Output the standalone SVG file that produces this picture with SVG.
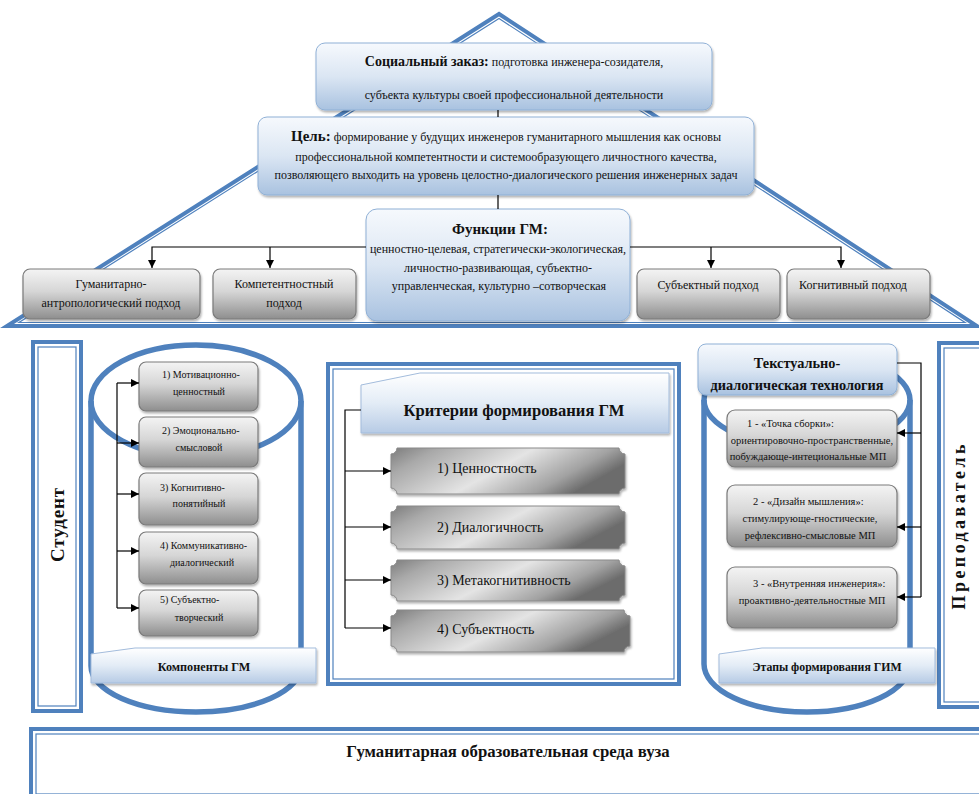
<svg xmlns="http://www.w3.org/2000/svg" width="979" height="794" viewBox="0 0 979 794" font-family="'Liberation Serif', 'Times New Roman', serif">
<defs>
<linearGradient id="gBlue" x1="0" y1="0" x2="0" y2="1">
<stop offset="0" stop-color="#f6f9fd"/><stop offset="0.5" stop-color="#dbe6f3"/><stop offset="1" stop-color="#a9c2e0"/>
</linearGradient>
<linearGradient id="gBanner" x1="0" y1="0" x2="0" y2="1">
<stop offset="0" stop-color="#ffffff"/><stop offset="0.5" stop-color="#e3ecf6"/><stop offset="1" stop-color="#b7cbe5"/>
</linearGradient>
<linearGradient id="gGray" x1="0" y1="0" x2="0" y2="1">
<stop offset="0" stop-color="#f4f4f4"/><stop offset="0.45" stop-color="#d6d6d6"/><stop offset="1" stop-color="#8e8e8e"/>
</linearGradient>
<linearGradient id="gMetal" x1="0" y1="0" x2="1" y2="0.35">
<stop offset="0" stop-color="#7c7c7c"/><stop offset="0.18" stop-color="#a9a9a9"/><stop offset="0.55" stop-color="#e4e4e4"/><stop offset="0.85" stop-color="#a2a2a2"/><stop offset="1" stop-color="#6c6c6c"/>
</linearGradient>
<filter id="sh" x="-10%" y="-10%" width="120%" height="130%">
<feDropShadow dx="1" dy="2" stdDeviation="1.3" flood-color="#000" flood-opacity="0.3"/>
</filter>
<marker id="arr" markerWidth="8" markerHeight="8" refX="8" refY="4" orient="auto" markerUnits="userSpaceOnUse">
<path d="M0,0 L8,4 L0,8 z" fill="#000"/>
</marker>
<style>
.t{fill:#111}
.b{font-weight:bold}
.s12{font-size:12px}
.s10{font-size:10px}
.s105{font-size:10.5px}
.blue{fill:url(#gBlue);stroke:#8fb0d6;stroke-width:1}
.gray{fill:url(#gGray);stroke:#7a7a7a;stroke-width:1.2}
.metal{fill:url(#gMetal);stroke:#8a8a8a;stroke-width:1}
.ban{fill:url(#gBanner);stroke:#a3bcdc;stroke-width:1}
.thick{fill:none;stroke:#4f81bd;stroke-width:4}
.thin{fill:none;stroke:#4f81bd;stroke-width:1.2}
.cyl{fill:none;stroke:#4f81bd;stroke-width:5.5}
.con{fill:none;stroke:#000;stroke-width:1.2}
</style>
</defs>
<rect x="0" y="0" width="979" height="794" fill="#fff"/>

<g id="roof">
<polygon points="499,14 7,326 977,326" class="thick"/>
<polygon points="499,18.5 19,322.5 965,322.5" class="thin"/>
</g>

<g id="student">
<rect x="33" y="342" width="48" height="369" class="thick" stroke-width="3.5"/>
<rect x="38" y="347" width="38" height="359" class="thin"/>
<text class="t b" font-size="19" transform="translate(64,525) rotate(-90)" text-anchor="middle" textLength="74" lengthAdjust="spacing">Студент</text>
</g>

<g id="teacher">
<rect x="939" y="343" width="50" height="364" class="thick" stroke-width="3.5"/>
<rect x="944" y="348" width="50" height="354" class="thin"/>
<text class="t b" font-size="18" transform="translate(965,527) rotate(-90)" text-anchor="middle" textLength="165" lengthAdjust="spacing">Преподаватель</text>
</g>

<g id="environment">
<rect x="31" y="729" width="960" height="70" class="thick" stroke-width="3.5"/>
<rect x="36" y="734" width="950" height="60" class="thin"/>
<text class="t b" font-size="16.8" x="508" y="757" text-anchor="middle">Гуманитарная образовательная среда вуза</text>
</g>

<g id="social">
<rect x="316" y="43" width="396" height="67" rx="9" class="blue" filter="url(#sh)"/>
<text class="t s12" x="514" y="66" text-anchor="middle"><tspan class="b" font-size="14">Социальный заказ:</tspan> подготовка инженера-созидателя,</text>
<text class="t s12" x="514" y="99" text-anchor="middle">субъекта культуры своей профессиональной деятельности</text>
</g>

<g id="goal">
<rect x="258" y="117" width="496" height="78" rx="9" class="blue" filter="url(#sh)"/>
<text class="t s12" x="506" y="141" text-anchor="middle"><tspan class="b" font-size="15">Цель:</tspan> формирование у будущих инженеров гуманитарного мышления как основы</text>
<text class="t s12" x="506" y="161" text-anchor="middle">профессиональной компетентности и системообразующего личностного качества,</text>
<text class="t s12" x="506" y="179" text-anchor="middle">позволяющего выходить на уровень целостно-диалогического решения инженерных задач</text>
</g>

<g id="functions">
<rect x="366" y="209" width="264" height="112" rx="11" class="blue" filter="url(#sh)"/>
<text class="t b" font-size="15" x="500" y="234" text-anchor="middle">Функции ГМ:</text>
<text class="t s12" x="498" y="253" text-anchor="middle">ценностно-целевая, стратегически-экологическая,</text>
<text class="t s12" x="498" y="272" text-anchor="middle">личностно-развивающая, субъектно-</text>
<text class="t s12" x="499" y="290" text-anchor="middle">управленческая, культурно –сотворческая</text>
</g>

<g id="approach1">
<rect x="23" y="269" width="177" height="50" rx="7" class="gray" filter="url(#sh)"/>
<text class="t s12" x="111" y="288" text-anchor="middle">Гуманитарно-</text>
<text class="t s12" x="111" y="307" text-anchor="middle">антропологический подход</text>
</g>
<g id="approach2">
<rect x="213" y="269" width="143" height="50" rx="7" class="gray" filter="url(#sh)"/>
<text class="t s12" x="284" y="288" text-anchor="middle">Компетентностный</text>
<text class="t s12" x="284" y="307" text-anchor="middle">подход</text>
</g>
<g id="approach3">
<rect x="637" y="269" width="143" height="50" rx="7" class="gray" filter="url(#sh)"/>
<text class="t s12" x="708" y="289" text-anchor="middle">Субъектный подход</text>
</g>
<g id="approach4">
<rect x="787" y="269" width="143" height="50" rx="7" class="gray" filter="url(#sh)"/>
<text class="t s12" x="853" y="289" text-anchor="middle">Когнитивный подход</text>
</g>

<g id="components">
<path d="M91,401 V666 A105,46 0 0 0 301,666 V401" class="cyl"/>
<ellipse cx="196" cy="401" rx="105" ry="56" class="cyl"/>
</g>
<g id="comp1">
<rect x="139" y="362" width="119" height="49" rx="7" class="gray" filter="url(#sh)"/>
<text class="t s10" x="162" y="378">1) Мотивационно-</text>
<text class="t s10" x="199" y="395" text-anchor="middle">ценностный</text>
</g>
<g id="comp2">
<rect x="139" y="417" width="119" height="50" rx="7" class="gray" filter="url(#sh)"/>
<text class="t s10" x="162" y="434">2) Эмоционально-</text>
<text class="t s10" x="199" y="451" text-anchor="middle">смысловой</text>
</g>
<g id="comp3">
<rect x="139" y="473" width="119" height="52" rx="7" class="gray" filter="url(#sh)"/>
<text class="t s10" x="160" y="491">3) Когнитивно-</text>
<text class="t s10" x="199" y="507" text-anchor="middle">понятийный</text>
</g>
<g id="comp4">
<rect x="139" y="532" width="119" height="52" rx="7" class="gray" filter="url(#sh)"/>
<text class="t s10" x="160" y="549">4) Коммуникативно-</text>
<text class="t s10" x="202" y="566" text-anchor="middle">диалогический</text>
</g>
<g id="comp5">
<rect x="139" y="590" width="119" height="46" rx="7" class="gray" filter="url(#sh)"/>
<text class="t s10" x="160" y="603">5) Субъектно-</text>
<text class="t s10" x="199" y="621" text-anchor="middle">творческий</text>
</g>
<g id="compTitle">
<path d="M91,654 L135,648 H316 V683 H91 Z" class="ban" filter="url(#sh)"/>
<text class="t b" font-size="12.2" x="204" y="671" text-anchor="middle">Компоненты ГМ</text>
</g>

<g id="criteriaFrame">
<rect x="328" y="364" width="351" height="320" class="thick" stroke-width="3.5"/>
<rect x="333" y="369" width="341" height="310" class="thin"/>
</g>
<g id="criteriaTitle">
<path d="M361,385 L420,373 H669 V433 H361 Z" class="ban" filter="url(#sh)"/>
<text class="t b" font-size="16.6" x="514" y="416" text-anchor="middle">Критерии формирования ГМ</text>
</g>
<g id="crit1">
<path d="M397,448 H619 A6,6 0 0 0 625,454 V488 A6,6 0 0 0 619,494 H397 A6,6 0 0 0 391,488 V454 A6,6 0 0 0 397,448 Z" class="metal" filter="url(#sh)"/>
<text class="t" font-size="14" x="437" y="473">1) Ценностность</text>
</g>
<g id="crit2">
<path d="M397,506 H619 A6,6 0 0 0 625,512 V543 A6,6 0 0 0 619,549 H397 A6,6 0 0 0 391,543 V512 A6,6 0 0 0 397,506 Z" class="metal" filter="url(#sh)"/>
<text class="t" font-size="14" x="437" y="532">2) Диалогичность</text>
</g>
<g id="crit3">
<path d="M397,560 H619 A6,6 0 0 0 625,566 V595 A6,6 0 0 0 619,601 H397 A6,6 0 0 0 391,595 V566 A6,6 0 0 0 397,560 Z" class="metal" filter="url(#sh)"/>
<text class="t" font-size="14" x="437" y="585">3) Метакогнитивность</text>
</g>
<g id="crit4">
<path d="M397,610 H624 A6,6 0 0 0 630,616 V646 A6,6 0 0 0 624,652 H397 A6,6 0 0 0 391,646 V616 A6,6 0 0 0 397,610 Z" class="metal" filter="url(#sh)"/>
<text class="t" font-size="14" x="437" y="634">4) Субъектность</text>
</g>

<g id="stages">
<path d="M704,400 V664 A103,48 0 0 0 910,664 V400" class="cyl"/>
<ellipse cx="807" cy="400" rx="103" ry="47" class="cyl"/>
</g>
<g id="techTitle">
<rect x="698" y="344" width="199" height="51" rx="8" class="blue" filter="url(#sh)"/>
<text class="t b" font-size="14.3" x="797" y="368" text-anchor="middle">Текстуально-</text>
<text class="t b" font-size="14.3" x="797" y="390" text-anchor="middle">диалогическая технология</text>
</g>
<g id="stage1">
<rect x="727" y="410" width="170" height="57" rx="8" class="gray" filter="url(#sh)"/>
<text class="t s105" x="747" y="427">1 - «Точка сборки»:</text>
<text class="t s105" x="812" y="444" text-anchor="middle">ориентировочно-пространственные,</text>
<text class="t s105" x="808" y="460" text-anchor="middle">побуждающе-интециональные МП</text>
</g>
<g id="stage2">
<rect x="727" y="485" width="170" height="62" rx="8" class="gray" filter="url(#sh)"/>
<text class="t s105" x="753" y="505">2 - «Дизайн мышления»:</text>
<text class="t s105" x="810" y="522" text-anchor="middle">стимулирующе-гностические,</text>
<text class="t s105" x="810" y="539" text-anchor="middle">рефлексивно-смысловые МП</text>
</g>
<g id="stage3">
<rect x="727" y="567" width="170" height="61" rx="8" class="gray" filter="url(#sh)"/>
<text class="t s105" x="753" y="587">3 - «Внутренняя инженерия»:</text>
<text class="t s105" x="812" y="604" text-anchor="middle">проактивно-деятельностные МП</text>
</g>
<g id="stagesTitle">
<path d="M719,654 L762,648 H935 V683 H719 Z" class="ban" filter="url(#sh)"/>
<text class="t b" font-size="11.8" x="827" y="671" text-anchor="middle">Этапы формирования ГИМ</text>
</g>

<g id="connectors">
<line x1="498" y1="110" x2="498" y2="117" class="con"/>
<line x1="498" y1="195" x2="498" y2="209" class="con"/>
<polyline points="366,247 152,247 152,268" class="con" marker-end="url(#arr)"/>
<line x1="270" y1="247" x2="270" y2="268" class="con" marker-end="url(#arr)"/>
<polyline points="630,247 841,247 841,268" class="con" marker-end="url(#arr)"/>
<line x1="711" y1="247" x2="711" y2="268" class="con" marker-end="url(#arr)"/>

<line x1="117" y1="383" x2="117" y2="608" class="con"/>
<line x1="117" y1="383" x2="139" y2="383" class="con" marker-end="url(#arr)"/>
<line x1="117" y1="443" x2="139" y2="443" class="con" marker-end="url(#arr)"/>
<line x1="117" y1="494" x2="139" y2="494" class="con" marker-end="url(#arr)"/>
<line x1="117" y1="551" x2="139" y2="551" class="con" marker-end="url(#arr)"/>
<line x1="117" y1="608" x2="139" y2="608" class="con" marker-end="url(#arr)"/>

<polyline points="361,410 345,410 345,628" class="con"/>
<line x1="345" y1="471" x2="391" y2="471" class="con" marker-end="url(#arr)"/>
<line x1="345" y1="527" x2="391" y2="527" class="con" marker-end="url(#arr)"/>
<line x1="345" y1="580" x2="391" y2="580" class="con" marker-end="url(#arr)"/>
<line x1="345" y1="628" x2="391" y2="628" class="con" marker-end="url(#arr)"/>

<polyline points="897,363 921,363 921,597" class="con"/>
<line x1="921" y1="433" x2="897" y2="433" class="con" marker-end="url(#arr)"/>
<line x1="921" y1="527" x2="897" y2="527" class="con" marker-end="url(#arr)"/>
<line x1="921" y1="597" x2="897" y2="597" class="con" marker-end="url(#arr)"/>
</g>
</svg>
